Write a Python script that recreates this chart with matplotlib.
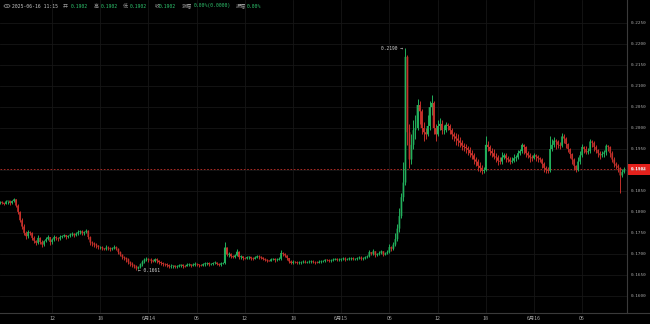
import matplotlib
matplotlib.use("Agg")
import matplotlib.pyplot as plt
import numpy as np
from matplotlib.patches import Rectangle, Circle

# ---------------- data (15-min candles, hours since 2025-06-13 00:00) ----------------
start_hour = 5.5
step_hour = 0.25
first_open = 0.1820

closes = [
    0.1824, 0.1822, 0.1819, 0.1825, 0.1827, 0.1821, 0.1826, 0.1830, 0.1815, 0.1800,
    0.1780, 0.1765, 0.1750, 0.1742, 0.1752, 0.1750, 0.1738, 0.1731, 0.1726, 0.1738,
    0.1728, 0.1722, 0.1730, 0.1735, 0.1740, 0.1728, 0.1734, 0.1740, 0.1737, 0.1736,
    0.1740, 0.1742, 0.1745, 0.1740, 0.1743, 0.1746, 0.1748, 0.1744, 0.1748, 0.1752,
    0.1754, 0.1749, 0.1752, 0.1755, 0.1740, 0.1727, 0.1725, 0.1722, 0.1720, 0.1716,
    0.1716, 0.1713, 0.1711, 0.1715, 0.1714, 0.1711, 0.1713, 0.1716, 0.1712, 0.1704,
    0.1698, 0.1692, 0.1690, 0.1687, 0.1680, 0.1676, 0.1673, 0.1670, 0.1665, 0.1668,
    0.1675, 0.1681, 0.1686, 0.1688, 0.1686, 0.1684, 0.1682, 0.1687, 0.1684, 0.1680,
    0.1678, 0.1676, 0.1675, 0.1673, 0.1670, 0.1671, 0.1672, 0.1669, 0.1670, 0.1672,
    0.1674, 0.1671, 0.1670, 0.1674, 0.1675, 0.1672, 0.1674, 0.1676, 0.1675, 0.1673,
    0.1672, 0.1675, 0.1677, 0.1678, 0.1675, 0.1676, 0.1678, 0.1679, 0.1676, 0.1674,
    0.1677, 0.1678, 0.1715, 0.1698, 0.1700, 0.1694, 0.1692, 0.1696, 0.1705, 0.1692,
    0.1694, 0.1690, 0.1689, 0.1692, 0.1693, 0.1689, 0.1688, 0.1691, 0.1694, 0.1693,
    0.1691, 0.1688, 0.1686, 0.1684, 0.1682, 0.1687, 0.1688, 0.1685, 0.1686, 0.1688,
    0.1702, 0.1700, 0.1696, 0.1690, 0.1682, 0.1678, 0.1681, 0.1680, 0.1678, 0.1679,
    0.1680, 0.1681, 0.1679, 0.1680, 0.1681, 0.1682, 0.1680, 0.1679, 0.1678, 0.1681,
    0.1682, 0.1683, 0.1686, 0.1685, 0.1683, 0.1684, 0.1686, 0.1688, 0.1685, 0.1686,
    0.1688, 0.1689, 0.1686, 0.1687, 0.1689, 0.1690, 0.1687, 0.1688, 0.1690, 0.1691,
    0.1688, 0.1689, 0.1692, 0.1694, 0.1704, 0.1700, 0.1706, 0.1697, 0.1700, 0.1702,
    0.1706, 0.1698, 0.1701, 0.1704, 0.1716, 0.1712, 0.1722, 0.1735, 0.1760, 0.1790,
    0.1835, 0.1870, 0.2170, 0.1990, 0.1925, 0.1960, 0.1995, 0.2000, 0.2055, 0.2040,
    0.2000, 0.1990, 0.1985, 0.2005, 0.2050, 0.2060, 0.2000, 0.1985, 0.2005, 0.2010,
    0.1995, 0.1995, 0.2008, 0.2005, 0.1995, 0.1985, 0.1980, 0.1975, 0.1970, 0.1965,
    0.1958, 0.1955, 0.1952, 0.1948, 0.1940, 0.1935, 0.1925, 0.1920, 0.1910, 0.1905,
    0.1898, 0.1900, 0.1960, 0.1955, 0.1945, 0.1940, 0.1932, 0.1930, 0.1922, 0.1920,
    0.1930, 0.1935, 0.1928, 0.1925, 0.1920, 0.1922, 0.1928, 0.1930, 0.1940, 0.1945,
    0.1960, 0.1955, 0.1940, 0.1935, 0.1930, 0.1928, 0.1935, 0.1932, 0.1928, 0.1925,
    0.1915, 0.1905, 0.1900, 0.1898, 0.1950, 0.1960, 0.1970, 0.1968, 0.1960, 0.1958,
    0.1980, 0.1975, 0.1962, 0.1950, 0.1938, 0.1925, 0.1910, 0.1900, 0.1920, 0.1935,
    0.1955, 0.1950, 0.1942, 0.1945, 0.1968, 0.1965, 0.1955, 0.1948, 0.1940, 0.1935,
    0.1938, 0.1942, 0.1958, 0.1955, 0.1940, 0.1925, 0.1915, 0.1910, 0.1905, 0.1887,
    0.1895, 0.1902,
]
highs = [
    0.1826, 0.1825, 0.1822, 0.1828, 0.1827, 0.1826, 0.1828, 0.1834, 0.1831, 0.1818,
    0.1803, 0.1785, 0.1770, 0.1755, 0.1756, 0.1755, 0.1752, 0.1742, 0.1733, 0.1745,
    0.1741, 0.1732, 0.1733, 0.1740, 0.1744, 0.1741, 0.1738, 0.1746, 0.1743, 0.1740,
    0.1744, 0.1746, 0.1748, 0.1746, 0.1746, 0.1750, 0.1752, 0.1750, 0.1751, 0.1756,
    0.1757, 0.1756, 0.1755, 0.1760, 0.1757, 0.1742, 0.1730, 0.1728, 0.1725, 0.1722,
    0.1719, 0.1718, 0.1715, 0.1720, 0.1718, 0.1716, 0.1716, 0.1720, 0.1718, 0.1714,
    0.1706, 0.1700, 0.1695, 0.1693, 0.1690, 0.1683, 0.1680, 0.1676, 0.1673, 0.1671,
    0.1678, 0.1685, 0.1690, 0.1692, 0.1691, 0.1689, 0.1686, 0.1690, 0.1689, 0.1686,
    0.1683, 0.1681, 0.1679, 0.1677, 0.1676, 0.1675, 0.1674, 0.1673, 0.1674, 0.1675,
    0.1675, 0.1675, 0.1674, 0.1678, 0.1677, 0.1676, 0.1677, 0.1680, 0.1678, 0.1676,
    0.1676, 0.1679, 0.1680, 0.1681, 0.1680, 0.1679, 0.1680, 0.1682, 0.1681, 0.1678,
    0.1680, 0.1681, 0.1728, 0.1716, 0.1705, 0.1702, 0.1697, 0.1700, 0.1712, 0.1706,
    0.1697, 0.1695, 0.1693, 0.1695, 0.1694, 0.1693, 0.1692, 0.1695, 0.1697, 0.1696,
    0.1695, 0.1693, 0.1690, 0.1688, 0.1686, 0.1691, 0.1690, 0.1689, 0.1689, 0.1692,
    0.1709, 0.1704, 0.1703, 0.1698, 0.1691, 0.1684, 0.1684, 0.1683, 0.1682, 0.1683,
    0.1683, 0.1684, 0.1684, 0.1683, 0.1684, 0.1685, 0.1684, 0.1682, 0.1682, 0.1684,
    0.1685, 0.1686, 0.1688, 0.1688, 0.1687, 0.1688, 0.1689, 0.1691, 0.1690, 0.1691,
    0.1691, 0.1693, 0.1692, 0.1690, 0.1692, 0.1693, 0.1692, 0.1691, 0.1693, 0.1694,
    0.1695, 0.1692, 0.1695, 0.1698, 0.1708, 0.1705, 0.1711, 0.1707, 0.1703, 0.1706,
    0.1710, 0.1707, 0.1705, 0.1709, 0.1724, 0.1718, 0.1728, 0.1750, 0.1770, 0.1810,
    0.1845, 0.1920, 0.2190, 0.2175, 0.2010, 0.1985, 0.2020, 0.2030, 0.2070, 0.2065,
    0.2045, 0.2015, 0.2000, 0.2030, 0.2065, 0.2080, 0.2065, 0.2010, 0.2020, 0.2025,
    0.2020, 0.2008, 0.2015, 0.2012, 0.2010, 0.2000, 0.1990, 0.1988, 0.1985, 0.1978,
    0.1972, 0.1965, 0.1962, 0.1958, 0.1955, 0.1948, 0.1940, 0.1932, 0.1925, 0.1918,
    0.1912, 0.1908, 0.1982, 0.1970, 0.1960, 0.1952, 0.1950, 0.1940, 0.1935, 0.1930,
    0.1942, 0.1940, 0.1940, 0.1934, 0.1932, 0.1930, 0.1938, 0.1936, 0.1948, 0.1950,
    0.1964, 0.1962, 0.1958, 0.1945, 0.1940, 0.1936, 0.1940, 0.1938, 0.1936, 0.1932,
    0.1928, 0.1918, 0.1910, 0.1906, 0.1982, 0.1975, 0.1978, 0.1975, 0.1972, 0.1966,
    0.1989, 0.1985, 0.1978, 0.1965, 0.1952, 0.1940, 0.1928, 0.1912, 0.1930, 0.1945,
    0.1962, 0.1958, 0.1958, 0.1952, 0.1975, 0.1972, 0.1968, 0.1960, 0.1950, 0.1945,
    0.1945, 0.1948, 0.1962, 0.1960, 0.1958, 0.1945, 0.1930, 0.1920, 0.1915, 0.1908,
    0.1902, 0.1906,
]
lows = [
    0.1818, 0.1819, 0.1817, 0.1818, 0.1820, 0.1817, 0.1820, 0.1824, 0.1812, 0.1795,
    0.1776, 0.1758, 0.1745, 0.1736, 0.1738, 0.1746, 0.1733, 0.1725, 0.1720, 0.1724,
    0.1724, 0.1716, 0.1719, 0.1727, 0.1733, 0.1722, 0.1724, 0.1730, 0.1733, 0.1731,
    0.1733, 0.1737, 0.1739, 0.1735, 0.1737, 0.1740, 0.1742, 0.1739, 0.1742, 0.1745,
    0.1748, 0.1744, 0.1745, 0.1749, 0.1736, 0.1722, 0.1719, 0.1717, 0.1714, 0.1712,
    0.1711, 0.1708, 0.1709, 0.1710, 0.1709, 0.1707, 0.1709, 0.1711, 0.1708, 0.1699,
    0.1694, 0.1688, 0.1685, 0.1680, 0.1675, 0.1672, 0.1668, 0.1665, 0.1661, 0.1664,
    0.1666, 0.1672, 0.1677, 0.1682, 0.1681, 0.1679, 0.1680, 0.1681, 0.1679, 0.1676,
    0.1674, 0.1672, 0.1670, 0.1668, 0.1666, 0.1667, 0.1667, 0.1665, 0.1667, 0.1668,
    0.1669, 0.1667, 0.1669, 0.1670, 0.1670, 0.1668, 0.1670, 0.1672, 0.1671, 0.1669,
    0.1670, 0.1671, 0.1672, 0.1674, 0.1672, 0.1673, 0.1673, 0.1676, 0.1673, 0.1671,
    0.1672, 0.1675, 0.1676, 0.1694, 0.1692, 0.1690, 0.1689, 0.1690, 0.1694, 0.1688,
    0.1688, 0.1686, 0.1687, 0.1688, 0.1688, 0.1685, 0.1686, 0.1687, 0.1689, 0.1688,
    0.1687, 0.1684, 0.1682, 0.1680, 0.1682, 0.1683, 0.1684, 0.1681, 0.1683, 0.1684,
    0.1685, 0.1695, 0.1692, 0.1686, 0.1677, 0.1675, 0.1676, 0.1677, 0.1675, 0.1676,
    0.1676, 0.1678, 0.1677, 0.1677, 0.1678, 0.1679, 0.1677, 0.1676, 0.1677, 0.1677,
    0.1678, 0.1680, 0.1680, 0.1682, 0.1680, 0.1681, 0.1682, 0.1684, 0.1682, 0.1683,
    0.1683, 0.1686, 0.1683, 0.1684, 0.1684, 0.1686, 0.1684, 0.1685, 0.1685, 0.1687,
    0.1685, 0.1686, 0.1687, 0.1690, 0.1692, 0.1696, 0.1696, 0.1693, 0.1694, 0.1697,
    0.1699, 0.1694, 0.1697, 0.1699, 0.1702, 0.1706, 0.1710, 0.1718, 0.1730, 0.1752,
    0.1785, 0.1825, 0.1865, 0.1960, 0.1905, 0.1915, 0.1950, 0.1975, 0.1995, 0.2010,
    0.1985, 0.1970, 0.1975, 0.1980, 0.1995, 0.2030, 0.1985, 0.1970, 0.1980, 0.1995,
    0.1985, 0.1985, 0.1990, 0.1995, 0.1985, 0.1975, 0.1968, 0.1960, 0.1958, 0.1955,
    0.1948, 0.1945, 0.1940, 0.1935, 0.1930, 0.1925, 0.1915, 0.1910, 0.1898, 0.1895,
    0.1890, 0.1892, 0.1898, 0.1945, 0.1935, 0.1930, 0.1925, 0.1920, 0.1912, 0.1914,
    0.1915, 0.1925, 0.1920, 0.1918, 0.1915, 0.1916, 0.1918, 0.1922, 0.1925, 0.1935,
    0.1940, 0.1938, 0.1930, 0.1928, 0.1920, 0.1922, 0.1925, 0.1922, 0.1920, 0.1918,
    0.1905, 0.1895, 0.1892, 0.1893, 0.1895, 0.1945, 0.1955, 0.1950, 0.1952, 0.1950,
    0.1955, 0.1965, 0.1952, 0.1942, 0.1928, 0.1915, 0.1900, 0.1894, 0.1898, 0.1915,
    0.1930, 0.1940, 0.1938, 0.1938, 0.1940, 0.1955, 0.1945, 0.1940, 0.1930, 0.1925,
    0.1930, 0.1932, 0.1935, 0.1945, 0.1930, 0.1918, 0.1908, 0.1902, 0.1895, 0.1844,
    0.1884, 0.1892,
]

price_ticks = [0.1600, 0.1650, 0.1700, 0.1750, 0.1800, 0.1850, 0.1900, 0.1950,
               0.2000, 0.2050, 0.2100, 0.2150, 0.2200, 0.2250]
time_tick_hours = [12, 18, 24, 30, 36, 42, 48, 54, 60, 66, 72, 78]
time_tick_labels = ["12", "18", "6月14", "06", "12", "18", "6月15", "06", "12", "18", "6月16", "06"]

last_price = 0.1902
high_mark = 0.2190
low_mark = 0.1661

header_items = [
    ("2025-06-16 11:15", "date"),
    ("开", "label"), ("0.1902", "value"),
    ("高", "label"), ("0.1902", "value"),
    ("低", "label"), ("0.1902", "value"),
    ("收", "label"), ("0.1902", "value"),
    ("涨幅", "label"), ("0.00%(0.0000)", "value"),
    ("振幅", "label"), ("0.00%", "value"),
]

# ---------------- figure ----------------
W, H = 650, 324
BG = "#000000"
UP = "#22b05c"
DOWN = "#c4302a"
GRID = "#161616"
TXT = "#a8a8a8"
CJK = ["Noto Sans CJK SC", "DejaVu Sans"]
MONO = ["DejaVu Sans Mono", "DejaVu Sans"]

fig = plt.figure(figsize=(W / 100, H / 100), dpi=100, facecolor=BG)
ax_right = 627
ax_bottom = 313
ax = fig.add_axes([0, (H - ax_bottom) / H, ax_right / W, ax_bottom / H])
ax.set_facecolor(BG)

# y mapping from reference pixels: 0.2250 @ y=23.3, 0.1600 @ y=295.7
px_per_unit = (295.7 - 23.3) / 0.065
y_top = 0.2250 + 23.3 / px_per_unit
y_bot = 0.2250 - (ax_bottom - 23.3) / px_per_unit
# x mapping: hour 24 @ x=148.5, 8.03 px/hour
px_per_hour = 8.03
x_left = 24 - 148.5 / px_per_hour
x_right = 24 + (ax_right - 148.5) / px_per_hour
ax.set_xlim(x_left, x_right)
ax.set_ylim(y_bot, y_top)

# grid
for p in price_ticks:
    ax.axhline(p, color=GRID, lw=0.6, zorder=0)
for h in time_tick_hours:
    ax.axvline(h, color=GRID, lw=0.6, zorder=0)

n = len(closes)
t = start_hour + step_hour * np.arange(n)
c = np.array(closes)
o = np.concatenate([[first_open], c[:-1]])
hi = np.maximum(np.array(highs), np.maximum(o, c))
lo = np.minimum(np.array(lows), np.minimum(o, c))
up = c >= o
colors = [UP if u else DOWN for u in up]

ax.vlines(t, lo, hi, colors=colors, lw=0.7, zorder=2)
body_bottom = np.minimum(o, c)
body_h = np.maximum(np.abs(c - o), 0.00005)
ax.bar(t, body_h, bottom=body_bottom, width=step_hour * 0.85, color=colors,
       linewidth=0, zorder=3, snap=False)

# last price dashed line
ax.axhline(last_price, color=DOWN, lw=0.6, ls=(0, (2, 2)), zorder=1)

# high / low markers
i_hi = int(np.argmax(hi))
i_lo = int(np.argmin(lo))
ax.text(t[i_hi] - 0.3, high_mark, f"{high_mark:.4f} →", ha="right", va="center",
        color="#d0d0d0", fontsize=3.3, family=MONO, zorder=5)
ax.text(t[i_lo] + 0.2, low_mark, f"← {low_mark:.4f}", ha="left", va="center",
        color="#d0d0d0", fontsize=3.3, family=MONO, zorder=5)

for s in ax.spines.values():
    s.set_visible(False)
ax.set_xticks([])
ax.set_yticks([])

# axes separator lines
fig.add_artist(plt.Line2D([0, 1], [(H - ax_bottom) / H] * 2, transform=fig.transFigure,
                          color="#3a3a3a", lw=0.8))
fig.add_artist(plt.Line2D([ax_right / W] * 2, [(H - ax_bottom) / H, 1], transform=fig.transFigure,
                          color="#3a3a3a", lw=0.8))

# price axis labels
for p in price_ticks:
    ypx = 23.3 + (0.2250 - p) * px_per_unit
    fig.text(631 / W, 1 - ypx / H, f"{p:.4f}", ha="left", va="center",
             color=TXT, fontsize=3.2, family=MONO)

# last price label
ypx = 23.3 + (0.2250 - last_price) * px_per_unit
fig.add_artist(Rectangle((ax_right / W, 1 - (ypx + 5.5) / H), (W - ax_right) / W, 11 / H,
                         transform=fig.transFigure, facecolor="#e3211c", edgecolor="none"))
fig.text(631 / W, 1 - ypx / H, f"{last_price:.4f}", ha="left", va="center",
         color="white", fontsize=3.2, family=MONO, fontweight="bold")

# time axis labels
for h, lab in zip(time_tick_hours, time_tick_labels):
    xpx = (h - x_left) * px_per_hour
    fig.text(xpx / W, 1 - 318.5 / H, lab, ha="center", va="center",
             color=TXT, fontsize=3.8, family=CJK)

# header
fig.add_artist(Circle((7 / W, 1 - 6 / H), 3.0 / W, transform=fig.transFigure,
                      facecolor="none", edgecolor="#9a9a9a", lw=0.5))
fig.text(7 / W, 1 - 6.3 / H, "v", ha="center", va="center", color="#9a9a9a",
         fontsize=3.0, family=MONO)
header_x = [12, 63, 71, 94, 101, 123, 130, 155, 159, 182, 194, 236, 247]
for (txt, kind), xpx in zip(header_items, header_x):
    if kind == "date":
        col, fam, fs = "#c8c8c8", MONO, 3.4
    elif kind == "label":
        col, fam, fs = "#9a9a9a", CJK, 3.6
    else:
        col, fam, fs = "#2ec36d", MONO, 3.4
    fig.text(xpx / W, 1 - 6 / H, txt, ha="left", va="center", color=col,
             fontsize=fs, family=fam)

fig.savefig("out.png", dpi=100, facecolor=BG)
